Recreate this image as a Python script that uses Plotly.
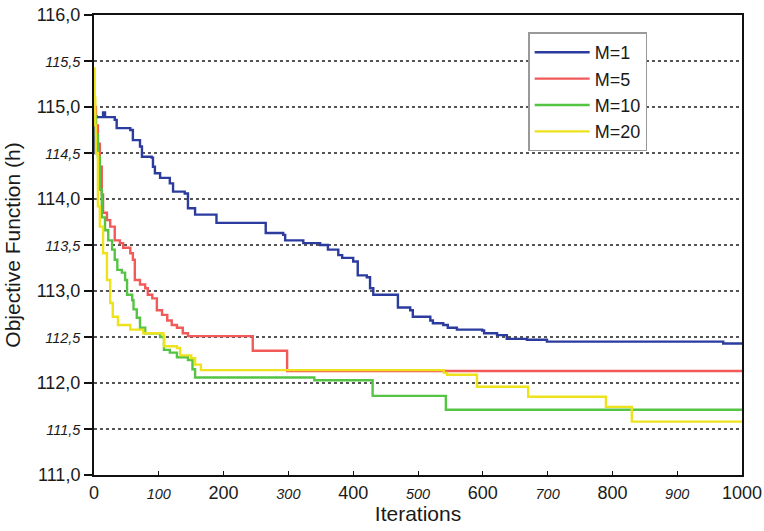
import plotly.graph_objects as go

# ---- data ----
m1_x = [0, 2, 4, 14, 17, 32, 35, 56, 60, 71, 74, 89, 91, 94, 102, 117, 122, 140, 145, 156,
        189, 265, 292, 295, 323, 349, 361, 377, 383, 400, 407, 421, 426, 431, 469, 488, 492,
        519, 523, 539, 546, 560, 599, 602, 622, 637, 668, 699, 971, 1000]
m1_y = [114.5, 114.9, 114.89, 114.94, 114.89, 114.86, 114.77, 114.75, 114.64, 114.57, 114.46,
        114.45, 114.35, 114.28, 114.23, 114.17, 114.08, 114.06, 113.9, 113.83,
        113.74, 113.63, 113.61, 113.55, 113.52, 113.5, 113.45, 113.39, 113.36, 113.32, 113.17,
        113.15, 113.03, 112.96, 112.82, 112.79, 112.72, 112.68, 112.65, 112.63, 112.6, 112.58,
        112.57, 112.54, 112.52, 112.48, 112.47, 112.45, 112.43, 112.43]

m5_x = [0, 3, 6, 9, 12, 14, 20, 25, 32, 40, 45, 56, 60, 63, 71, 79, 83, 90, 97, 105, 113, 120,
        128, 137, 145, 245, 298, 1000]
m5_y = [115.0, 114.8, 114.6, 114.35, 114.05, 113.85, 113.77, 113.7, 113.55, 113.52, 113.47,
        113.41, 113.34, 113.12, 113.07, 113.03, 112.96, 112.92, 112.79, 112.74, 112.68, 112.63,
        112.6, 112.54, 112.51, 112.35, 112.13, 112.13]

m10_x = [0, 3, 6, 9, 12, 17, 22, 28, 32, 36, 43, 48, 51, 59, 61, 66, 71, 79, 102, 108, 117,
         128, 145, 152, 156, 340, 430, 543, 1000]
m10_y = [114.9, 114.7, 114.46, 114.1, 113.8, 113.66, 113.55, 113.45, 113.34, 113.23, 113.2,
         113.12, 112.96, 112.9, 112.8, 112.71, 112.6, 112.54, 112.5, 112.36, 112.33,
         112.28, 112.25, 112.15, 112.06, 112.03, 111.86, 111.71, 111.71]

m20_x = [0, 1, 2, 3, 6, 9, 14, 20, 25, 29, 37, 56, 76, 107, 108, 128, 133, 150, 156, 165,
         540, 545, 591, 670, 790, 830, 1000]
m20_y = [115.42, 115.1, 114.8, 114.5, 113.92, 113.7, 113.41, 113.12, 112.87, 112.72, 112.63,
         112.58, 112.54, 112.52, 112.4, 112.38, 112.3, 112.27, 112.2, 112.14,
         112.11, 112.09, 111.96, 111.85, 111.74, 111.58, 111.57]

series = [("M=1", m1_x, m1_y, "#2b3b9e"),
          ("M=5", m5_x, m5_y, "#f25a5a"),
          ("M=10", m10_x, m10_y, "#55c444"),
          ("M=20", m20_x, m20_y, "#eee21c")]

y_ticks = [111.0, 111.5, 112.0, 112.5, 113.0, 113.5, 114.0, 114.5, 115.0, 115.5, 116.0]
x_ticks = [0, 100, 200, 300, 400, 500, 600, 700, 800, 900, 1000]

def fmt_y(v):
    s = f"{v:.1f}".replace(".", ",")
    if abs(v - round(v)) > 1e-9:
        return f"<i><span style='font-size:14.5px'>{s}</span></i>"
    return s

def fmt_x(v):
    if v % 200 != 0:
        return f"<i><span style='font-size:14.5px'>{v}</span></i>"
    return str(v)

fig = go.Figure()
for name, xs, ys, col in series:
    fig.add_trace(go.Scatter(x=xs, y=ys, mode="lines", name=name,
                             line=dict(color=col, width=2.4, shape="hv")))

font_family = "Liberation Sans, Arial, sans-serif"
fig.update_layout(
    width=764, height=531,
    margin=dict(l=94, r=22, t=15, b=56),
    paper_bgcolor="white", plot_bgcolor="white",
    font=dict(family=font_family, color="#1a1a1a", size=18),
    showlegend=True,
    legend=dict(x=0.67, y=0.962, xanchor="left", yanchor="top",
                bgcolor="white", bordercolor="#999999", borderwidth=1.5,
                font=dict(size=18, family=font_family, color="#1a1a1a"),
                itemwidth=55),
    xaxis=dict(range=[0, 1000], tickvals=x_ticks, ticktext=[fmt_x(v) for v in x_ticks],
               showgrid=False, zeroline=False, showline=True, linecolor="#111",
               linewidth=2, mirror=True, ticks="inside", ticklen=4, tickwidth=1.2,
               tickcolor="#111", tickfont=dict(size=18), automargin=False,
               title=dict(text="Iterations", font=dict(size=21), standoff=2)),
    yaxis=dict(range=[111, 116], tickvals=y_ticks, ticktext=[fmt_y(v) for v in y_ticks],
               showgrid=True, gridcolor="#555555", griddash="dot", gridwidth=1.5,
               zeroline=False, showline=True, linecolor="#111", linewidth=2, mirror=True,
               ticks="outside", ticklen=8, tickwidth=1.5, tickcolor="#111",
               tickfont=dict(size=18), automargin=False,
               title=dict(text="Objective Function (h)", font=dict(size=21), standoff=10)),
)

fig.write_html("out.html", config={"displayModeBar": False},
               post_script="document.body.style.margin='0';"
                           "document.body.style.overflow='hidden';")
